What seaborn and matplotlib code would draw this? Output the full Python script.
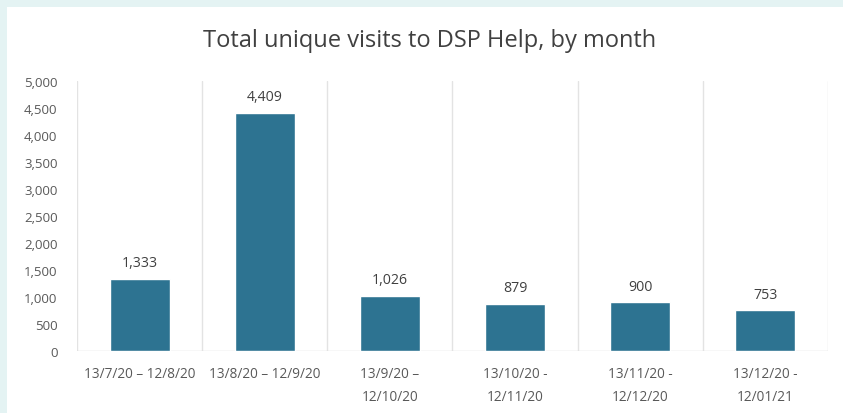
import matplotlib
matplotlib.use("Agg")
import matplotlib.pyplot as plt
from matplotlib.patches import Rectangle
import seaborn as sns
import pandas as pd

periods = [
    "13/7/20 – 12/8/20",
    "13/8/20 – 12/9/20",
    "13/9/20 –\n12/10/20",
    "13/10/20 -\n12/11/20",
    "13/11/20 -\n12/12/20",
    "13/12/20 -\n12/01/21",
]
visits = [1333, 4409, 1026, 879, 900, 753]
yticks = [0, 500, 1000, 1500, 2000, 2500, 3000, 3500, 4000, 4500, 5000]

df = pd.DataFrame({"period": periods, "visits": visits})

sns.set_theme(style="white")
plt.rcParams["font.family"] = ["Open Sans", "DejaVu Sans"]

W, H = 843, 414
fig = plt.figure(figsize=(W / 100, H / 100), dpi=100)
fig.patch.set_facecolor("#e4f3f3")
# white card behind the chart
card = Rectangle((7 / W, 0), 1 - 7 / W, 1 - 8 / H,
                 transform=fig.transFigure, facecolor="white",
                 edgecolor="none", zorder=-10)
fig.patches.append(card)

ax = fig.add_axes([77 / W, 62 / H, (828 - 77) / W, (352 - 82) / H])
ax.set_facecolor("none")
ax.set_zorder(5)

sns.barplot(data=df, x="period", y="visits", color="#2d7391",
            width=0.48, saturation=1, ax=ax, zorder=3)

ax.set_xlim(-0.5, len(periods) - 0.5)
ax.set_ylim(0, 5000)
ax.set_yticks(yticks)
ax.set_yticklabels([f"{v:,}" for v in yticks])
ax.set_xlabel("")
ax.set_ylabel("")

# light vertical separators between categories
for b in range(len(periods) + 1):
    ax.axvline(b - 0.5, color="#e3e3e3", lw=1.0, zorder=1)
ax.axhline(0, color="#d9d9d9", lw=1.0, zorder=2)

for s in ax.spines.values():
    s.set_visible(False)

ax.tick_params(axis="y", length=0, pad=14, labelsize=9.5, labelcolor="#595959")
ax.tick_params(axis="x", length=0, pad=11, labelsize=9.8, labelcolor="#595959")
for lbl in ax.get_xticklabels():
    lbl.set_linespacing(1.7)

for i, v in enumerate(visits):
    ax.text(i, v + 160, f"{v:,}", ha="center", va="bottom",
            fontsize=10.2, color="#404040")

fig.text(430 / W, 1 - 41 / H, "Total unique visits to DSP Help, by month",
         ha="center", va="center", fontsize=17, color="#404040")

fig.savefig("out.png", dpi=100, facecolor=fig.get_facecolor())
